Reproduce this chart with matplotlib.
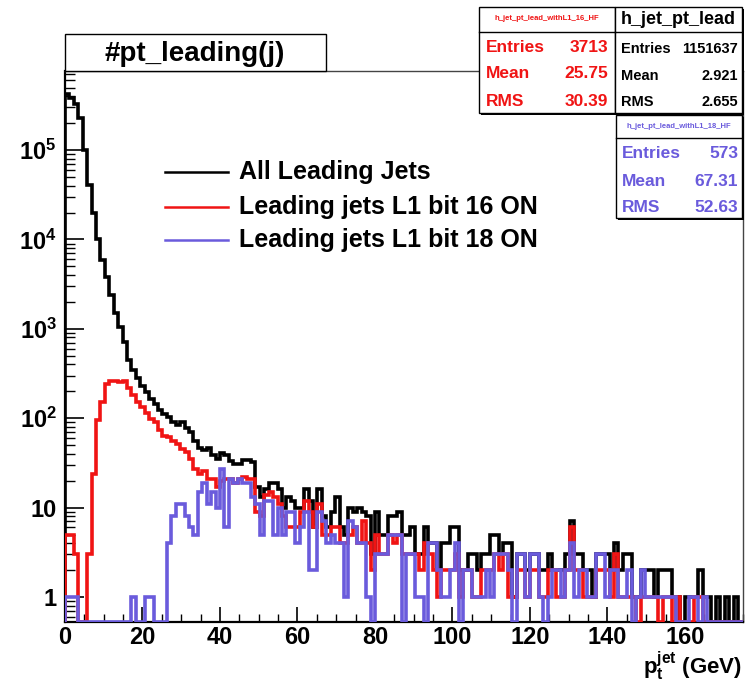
import numpy as np
import matplotlib
matplotlib.use("Agg")
import matplotlib.pyplot as plt
from matplotlib.lines import Line2D
from matplotlib.patches import Rectangle
from matplotlib.ticker import FixedLocator, FuncFormatter, LogLocator, MultipleLocator, NullFormatter

plt.rcParams['font.family'] = ['Liberation Sans', 'DejaVu Sans']
plt.rcParams['font.weight'] = 'bold'
plt.rcParams['mathtext.fontset'] = 'custom'
plt.rcParams['mathtext.rm'] = 'Liberation Sans:bold'
plt.rcParams['mathtext.bf'] = 'Liberation Sans:bold'
plt.rcParams['mathtext.it'] = 'Liberation Sans:bold'

# histogram binning: 175 bins over 0-200 GeV, drawn up to 175 GeV
N_BINS, X_LO, X_HI = 175, 0.0, 200.0
X_SHOW = 175.0
Y_MIN, Y_MAX = 0.525, 7.66e5

# bin contents, leading jet pt
all_jets = [
    420000, 380000, 330000, 230000, 100000, 41000, 20000, 10000, 5900, 3800,
    2400, 1500, 1050, 720, 450, 350, 280, 230, 195, 165,
    145, 124, 112, 103, 91, 84, 90, 78, 70, 55,
    46, 44, 46, 39, 35, 41, 39, 33, 31, 31,
    34, 34, 32, 17, 13, 16, 19, 19, 16, 10,
    13, 12, 10, 10, 16, 12, 6, 16, 8, 6,
    9, 13, 6, 5, 10, 9, 10, 9, 8, 3,
    9, 5, 5, 8, 8, 9, 5, 5, 6, 3,
    3, 6, 4, 4, 2, 4, 4, 6, 6, 2,
    2, 3, 3, 2, 3, 3, 5, 5, 3, 4,
    4, 1, 3, 3, 2, 3, 3, 2, 2, 3,
    2, 2, 2, 3, 7, 3, 3, 2, 2, 1,
    3, 3, 3, 2, 4, 2, 3, 3, 1, 1,
    2, 2, 2, 1, 2, 2, 2, 1, 1, 0,
    1, 1, 1, 2, 1, 1, 0, 1, 0, 1,
    0, 1, 0, 0,
]
bit16_on = [
    5, 5, 3, 0, 0, 3, 24, 95, 150, 240,
    258, 262, 256, 262, 215, 180, 150, 135, 114, 98,
    90, 73, 64, 62, 55, 52, 45, 42, 35, 27,
    24, 26, 21, 21, 17, 20, 21, 21, 19, 21,
    22, 21, 21, 9, 8, 14, 15, 13, 11, 8,
    6, 6, 6, 9, 12, 9, 6, 11, 5, 5,
    6, 6, 4, 4, 5, 6, 4, 7, 4, 2,
    5, 3, 3, 5, 4, 5, 3, 3, 3, 3,
    2, 4, 3, 2, 1, 2, 2, 2, 3, 1,
    2, 2, 1, 1, 2, 2, 2, 3, 2, 3,
    1, 1, 2, 2, 1, 2, 2, 1, 1, 2,
    2, 1, 1, 2, 6, 2, 2, 1, 1, 1,
    2, 2, 2, 1, 3, 1, 1, 1, 1, 0,
    1, 1, 1, 1, 0, 1, 1, 0, 1, 0,
    0, 0, 1, 1, 0, 0, 0, 0, 0, 0,
    0, 0, 0, 0,
]
bit18_on = [
    1, 1, 1, 0, 0, 0, 0, 0, 0, 0,
    0, 0, 0, 0, 0, 1, 0, 0, 1, 1,
    0, 0, 0, 4, 8, 11, 11, 8, 6, 5,
    15, 19, 11, 15, 10, 27, 6, 21, 19, 21,
    19, 19, 13, 11, 5, 12, 12, 5, 10, 5,
    9, 9, 4, 6, 9, 2, 2, 9, 7, 4,
    5, 4, 4, 1, 7, 6, 4, 4, 1, 0,
    3, 3, 3, 5, 5, 5, 0, 3, 3, 1,
    1, 0, 4, 4, 2, 1, 1, 2, 4, 0,
    2, 2, 1, 1, 1, 2, 1, 3, 3, 3,
    2, 0, 3, 3, 1, 3, 3, 1, 0, 1,
    2, 2, 1, 2, 4, 1, 2, 2, 1, 1,
    3, 3, 1, 2, 2, 1, 1, 2, 0, 1,
    2, 1, 1, 1, 1, 1, 1, 1, 0, 0,
    0, 1, 1, 0, 1, 0, 0, 0, 0, 0,
    0, 0, 0, 0,
]

legend_labels = ["All Leading Jets", "Leading jets L1 bit 16 ON", "Leading jets L1 bit 18 ON"]
hist_colors = ["black", "#f01414", "#6a5bdc"]
y_major = [1, 10, 100, 1e3, 1e4, 1e5]

# stat boxes
stat_names = ["h_jet_pt_lead_withL1_16_HF", "h_jet_pt_lead", "h_jet_pt_lead_withL1_18_HF"]
stat_entries = ["3713", "1151637", "573"]
stat_means = ["25.75", "2.921", "67.31"]
stat_rms = ["30.39", "2.655", "52.63"]

W, H = 753, 683
fig = plt.figure(figsize=(W / 100, H / 100), dpi=100)
fig.patch.set_facecolor("white")


def fx(x):
    return x / W


def fy(y):
    return 1 - y / H


ax = fig.add_axes([fx(65), fy(622), (743 - 65) / W, (622 - 71) / H])
ax.set_yscale("log")

bin_w = (X_HI - X_LO) / N_BINS
for vals, col, z in zip([all_jets, bit16_on, bit18_on], hist_colors, [2, 3, 4]):
    v = np.asarray(vals, dtype=float)
    edges = X_LO + bin_w * np.arange(len(v) + 1)
    # empty bins sit on the bottom of the frame, like ROOT does it
    v = np.where(v > 0, v, Y_MIN)
    ax.stairs(v, edges, baseline=Y_MIN, color=col, lw=2.6, zorder=z)

ax.set_xlim(X_LO, X_SHOW)
ax.set_ylim(Y_MIN, Y_MAX)

ax.xaxis.set_major_locator(MultipleLocator(20))
ax.xaxis.set_minor_locator(MultipleLocator(5))
ax.yaxis.set_major_locator(FixedLocator(y_major))
ax.yaxis.set_minor_locator(LogLocator(base=10, subs=np.arange(2, 10), numticks=12))
ax.yaxis.set_minor_formatter(NullFormatter())


def ylab(v, pos):
    e = int(round(np.log10(v)))
    if e == 0:
        return "1"
    if e == 1:
        return "10"
    return r"$\mathbf{10^{%d}}$" % e


ax.yaxis.set_major_formatter(FuncFormatter(ylab))
ax.tick_params(axis="both", which="both", direction="in", top=False, right=False, colors="black")
ax.tick_params(axis="y", which="major", length=14, width=1.2, labelsize=17, pad=6)
ax.tick_params(axis="y", which="minor", length=7, width=1.0)
ax.tick_params(axis="x", which="major", length=11, width=1.2, labelsize=17, pad=3)
ax.tick_params(axis="x", which="minor", length=6, width=1.0)
for lab in ax.get_xticklabels() + ax.get_yticklabels():
    lab.set_fontweight("bold")

ax.spines["left"].set_linewidth(1.6)
ax.spines["bottom"].set_linewidth(1.6)
ax.spines["top"].set_linewidth(1.0)
ax.spines["right"].set_linewidth(1.0)
ax.spines["top"].set_color("#444444")
ax.spines["right"].set_color("#444444")

# title pave
fig.patches.append(Rectangle((fx(65), fy(71)), (326 - 65) / W, (71 - 34) / H,
                             transform=fig.transFigure, facecolor="white",
                             edgecolor="black", lw=1.0, zorder=5))
fig.text(fx(195), fy(54), "#pt_leading(j)", ha="center", va="center",
         fontsize=20, fontweight="bold", zorder=6)

# legend without frame
leg_ys = [172, 207, 240]
for lab, col, yy in zip(legend_labels, hist_colors, leg_ys):
    fig.add_artist(Line2D([fx(165), fx(228)], [fy(yy), fy(yy)], color=col, lw=1.8))
    fig.text(fx(239), fy(yy), lab, ha="left", va="center", fontsize=18, fontweight="bold")

# x axis title
fig.text(fx(742), fy(666), r"$\mathbf{p_{t}^{jet}}$ (GeV)", ha="right", va="center",
         fontsize=16, fontweight="bold")


def stat_box(x0, y0, x1, y1, line_y, idx, color, name_size, row_size, name_y, row_ys, lx, rx):
    fig.patches.append(Rectangle((fx(x0 + 2), fy(y1 + 2)), (x1 - x0) / W, (y1 - y0) / H,
                                 transform=fig.transFigure, facecolor="black",
                                 edgecolor="none", zorder=7))
    fig.patches.append(Rectangle((fx(x0), fy(y1)), (x1 - x0) / W, (y1 - y0) / H,
                                 transform=fig.transFigure, facecolor="white",
                                 edgecolor="black", lw=1.0, zorder=8))
    fig.add_artist(Line2D([fx(x0), fx(x1)], [fy(line_y), fy(line_y)], color="black",
                          lw=1.0, zorder=9))
    fig.text(fx((x0 + x1) / 2), fy(name_y), stat_names[idx], ha="center", va="center",
             fontsize=name_size, color=color, fontweight="bold", zorder=10)
    rows = [("Entries", stat_entries[idx]), ("Mean", stat_means[idx]), ("RMS", stat_rms[idx])]
    for (key, val), yy in zip(rows, row_ys):
        fig.text(fx(lx), fy(yy), key, ha="left", va="center", fontsize=row_size,
                 color=color, fontweight="bold", zorder=10)
        fig.text(fx(rx), fy(yy), val, ha="right", va="center", fontsize=row_size,
                 color=color, fontweight="bold", zorder=10)


stat_box(479, 7, 615, 113, 32, 0, hist_colors[1], 5.5, 12.5, 19, [48, 74, 101], 486, 608)
stat_box(615, 7, 742, 113, 32, 1, "black", 13, 10.5, 19, [49, 76, 102], 621, 738)
stat_box(616, 115, 742, 218, 138, 2, hist_colors[2], 5.5, 12.5, 127, [154, 181, 207], 622, 738)

fig.savefig("out.png", dpi=100, facecolor="white")
